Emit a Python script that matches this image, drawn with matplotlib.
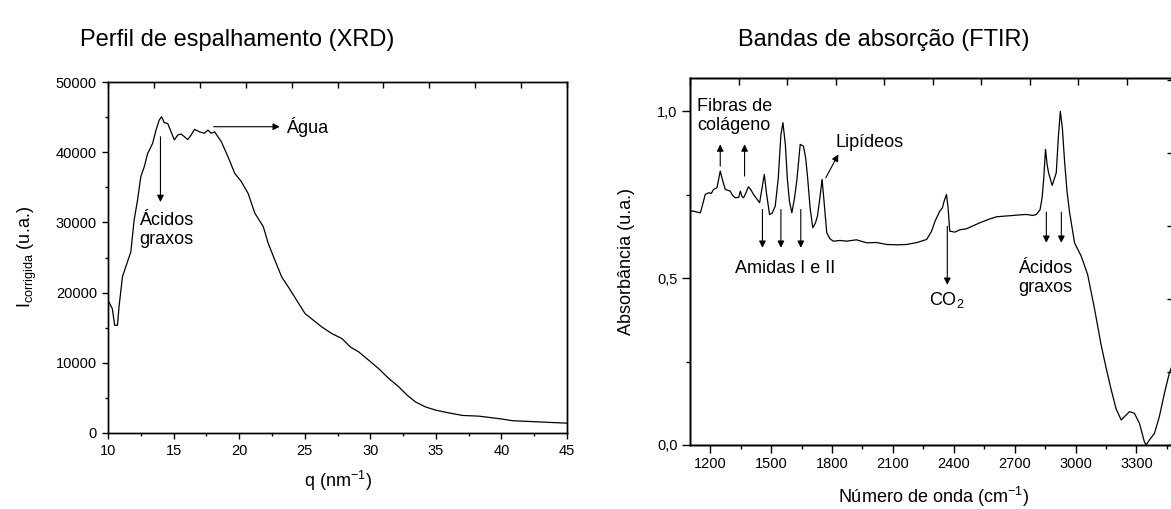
import matplotlib
matplotlib.use('Agg')
import matplotlib.pyplot as plt
from matplotlib import font_manager
from matplotlib.ticker import MultipleLocator, FuncFormatter

plt.rcParams['font.family'] = ['Liberation Sans', 'DejaVu Sans']
plt.rcParams['mathtext.default'] = 'regular'

# XRD: scattering profile
q_xrd = [10.0, 10.33, 10.51, 10.72, 10.84, 11.1, 11.35, 11.74, 11.99, 12.25, 12.5, 12.76,
         13.02, 13.4, 13.66, 13.91, 14.09, 14.29, 14.55, 14.81, 15.06, 15.32, 15.57, 15.83,
         16.08, 16.34, 16.6, 16.98, 17.36, 17.62, 17.87, 18.13, 18.38, 18.64, 19.15, 19.66,
         20.17, 20.69, 21.2, 21.84, 22.22, 22.73, 23.24, 23.75, 24.39, 25.03, 25.67, 26.31,
         27.08, 27.84, 28.48, 29.12, 29.89, 30.65, 31.42, 32.19, 32.83, 33.47, 34.23, 35.0,
         36.02, 37.04, 38.28, 40.0, 40.85, 43.2, 45.0]
i_xrd = [18900, 17700, 15350, 15350, 17950, 22250, 23650, 25800, 30300, 33150, 36500, 37900,
         39800, 41250, 43150, 44600, 45050, 44200, 44100, 42900, 41750, 42450, 42600, 42200,
         41800, 42450, 43250, 42900, 42700, 43150, 42700, 42900, 42200, 41500, 39350, 37000,
         35800, 34100, 31300, 29400, 27000, 24600, 22250, 20800, 18900, 17000, 16050, 15100,
         14150, 13450, 12250, 11550, 10350, 9150, 7750, 6550, 5350, 4400, 3700, 3250,
         2850, 2500, 2400, 2000, 1750, 1550, 1400]

# FTIR: absorption bands
wn_ftir = [1100, 1118, 1135, 1151, 1162, 1175, 1192, 1205, 1216, 1233, 1249, 1262, 1274, 1298,
           1310, 1323, 1340, 1348, 1356, 1364, 1375, 1388, 1400, 1413, 1443, 1455, 1466, 1478,
           1492, 1505, 1520, 1535, 1548, 1558, 1570, 1580, 1590, 1602, 1615, 1627, 1643, 1659,
           1670, 1679, 1692, 1705, 1718, 1728, 1740, 1751, 1762, 1774, 1790, 1806, 1840, 1872,
           1920, 1971, 2020, 2069, 2120, 2167, 2220, 2266, 2290, 2307, 2331, 2344, 2352, 2364,
           2372, 2380, 2405, 2430, 2462, 2495, 2528, 2570, 2610, 2650, 2692, 2730, 2758, 2790,
           2807, 2825, 2835, 2843, 2852, 2860, 2867, 2885, 2905, 2915, 2925, 2935, 2946, 2958,
           2970, 2995, 3028, 3060, 3093, 3126, 3151, 3176, 3200, 3225, 3241, 3266, 3290, 3315,
           3339, 3348, 3364, 3389, 3413, 3438, 3462, 3490]
abs_ftir = [0.701, 0.701, 0.698, 0.696, 0.72, 0.751, 0.756, 0.754, 0.766, 0.771, 0.821, 0.79,
            0.766, 0.761, 0.748, 0.741, 0.742, 0.761, 0.745, 0.741, 0.755, 0.774, 0.765, 0.751,
            0.726, 0.77, 0.811, 0.75, 0.691, 0.695, 0.716, 0.8, 0.93, 0.966, 0.9, 0.796,
            0.73, 0.696, 0.74, 0.796, 0.901, 0.896, 0.86, 0.806, 0.71, 0.651, 0.665, 0.686,
            0.74, 0.796, 0.72, 0.636, 0.618, 0.611, 0.613, 0.611, 0.615, 0.606, 0.607, 0.601,
            0.6, 0.601, 0.607, 0.616, 0.64, 0.67, 0.701, 0.711, 0.73, 0.751, 0.71, 0.641,
            0.638, 0.645, 0.648, 0.657, 0.666, 0.676, 0.684, 0.686, 0.688, 0.69, 0.691, 0.688,
            0.691, 0.705, 0.74, 0.796, 0.886, 0.84, 0.816, 0.778, 0.816, 0.92, 1.0, 0.95,
            0.85, 0.76, 0.7, 0.606, 0.566, 0.51, 0.41, 0.3, 0.23, 0.165, 0.108, 0.075,
            0.085, 0.1, 0.095, 0.065, 0.01, 0.0, 0.015, 0.035, 0.085, 0.155, 0.215, 0.26]

W, H = 1171, 509
fig = plt.figure(figsize=(W / 100, H / 100), dpi=100)

def box(l, r, t, b):
    return [l / W, 1 - b / H, (r - l) / W, (b - t) / H]

arrow = dict(arrowstyle='-|>', color='black', lw=0.8, mutation_scale=10, shrinkA=0, shrinkB=0)

# ---- left: XRD
ax1 = fig.add_axes(box(108, 567, 82, 433))
ax1.plot(q_xrd, i_xrd, color='black', lw=0.9)
ax1.set_xlim(10, 45)
ax1.set_ylim(0, 50000)
ax1.xaxis.set_major_locator(MultipleLocator(5))
ax1.xaxis.set_minor_locator(MultipleLocator(2.5))
ax1.yaxis.set_major_locator(MultipleLocator(10000))
ax1.yaxis.set_minor_locator(MultipleLocator(5000))
ax1.tick_params(which='major', length=4.5, width=1, labelsize=10.5)
ax1.tick_params(which='minor', length=2.5, width=1)
ax1.set_xlabel('q (nm$^{-1}$)', fontsize=13, labelpad=8)
ax1.set_ylabel('I$_{corrigida}$ (u.a.)', fontsize=13, labelpad=12)

ax1.annotate('', xy=(14.0, 32900), xytext=(14.0, 42200), arrowprops=arrow)
ax1.text(12.4, 28850, 'Ácidos\ngraxos', fontsize=13, ha='left', va='center', linespacing=1.15)
ax1.annotate('', xy=(23.1, 43630), xytext=(18.05, 43630), arrowprops=arrow)
ax1.text(23.55, 43630, 'Água', fontsize=13, ha='left', va='center')

t1 = ax1.twiny()
t1.set_xlim(0, 10)
t1.xaxis.set_major_locator(MultipleLocator(1))
t1.tick_params(axis='x', direction='in', length=4, width=1, labeltop=False)

# ---- right: FTIR
ax2 = fig.add_axes(box(690, 1177, 78, 445))
ax2.plot(wn_ftir, abs_ftir, color='black', lw=0.9)
ax2.set_xlim(1100, 3500)
ax2.set_ylim(0, 1.1)
ax2.xaxis.set_major_locator(MultipleLocator(300))
ax2.xaxis.set_minor_locator(MultipleLocator(150))
ax2.yaxis.set_major_locator(MultipleLocator(0.5))
ax2.yaxis.set_minor_locator(MultipleLocator(0.25))
ax2.yaxis.set_major_formatter(FuncFormatter(lambda v, p: f'{v:.1f}'.replace('.', ',')))
ax2.tick_params(which='major', length=5.5, width=1, labelsize=10.5)
ax2.tick_params(which='minor', length=3, width=1)
ax2.set_xlabel('Número de onda (cm$^{-1}$)', fontsize=13, labelpad=10)
ax2.set_ylabel('Absorbância (u.a.)', fontsize=13, labelpad=16)

for x0 in (1249, 1369):
    ax2.annotate('', xy=(x0, 0.901), xytext=(x0, 0.806 if x0 > 1300 else 0.836), arrowprops=arrow)
ax2.text(1135, 0.986, 'Fibras de\ncolágeno', fontsize=13, ha='left', va='center', linespacing=1.15)
for x0 in (1457, 1548, 1646):
    ax2.annotate('', xy=(x0, 0.591), xytext=(x0, 0.706), arrowprops=arrow)
ax2.text(1569, 0.528, 'Amidas I e II', fontsize=13, ha='center', va='center')
ax2.annotate('', xy=(1831, 0.871), xytext=(1769, 0.801), arrowprops=arrow)
ax2.text(1815, 0.906, 'Lipídeos', fontsize=13, ha='left', va='center')
ax2.annotate('', xy=(2368, 0.48), xytext=(2368, 0.656), arrowprops=arrow)
ax2.text(2368, 0.435, 'CO$_2$', fontsize=13, ha='center', va='center')
for x0 in (2856, 2930):
    ax2.annotate('', xy=(x0, 0.606), xytext=(x0, 0.698), arrowprops=arrow)
ax2.text(2716, 0.5, 'Ácidos\ngraxos', fontsize=13, ha='left', va='center', linespacing=1.15)

t2 = ax2.twiny()
t2.set_xlim(0, 10.04)
t2.xaxis.set_major_locator(MultipleLocator(1))
t2.tick_params(axis='x', direction='in', length=5, width=1, labeltop=False)
r2 = ax2.twinx()
r2.set_ylim(0, 5.03)
r2.yaxis.set_major_locator(MultipleLocator(1))
r2.tick_params(axis='y', direction='in', length=7, width=1, labelright=False)

for a in (ax1, t1, ax2, t2, r2):
    for s in a.spines.values():
        s.set_linewidth(1.0)

# titles: condensed face when it exists
installed = {f.name for f in font_manager.fontManager.ttflist}
if 'Liberation Sans Narrow' in installed:
    title_font = dict(family='Liberation Sans Narrow', fontsize=20)
else:
    title_font = dict(family='Liberation Sans', fontsize=17)

fig.text(80 / W, 1 - 40 / H, 'Perfil de espalhamento (XRD)', ha='left', va='center', **title_font)
fig.text(738 / W, 1 - 40 / H, 'Bandas de absorção (FTIR)', ha='left', va='center', **title_font)

fig.savefig('out.png', dpi=100)
